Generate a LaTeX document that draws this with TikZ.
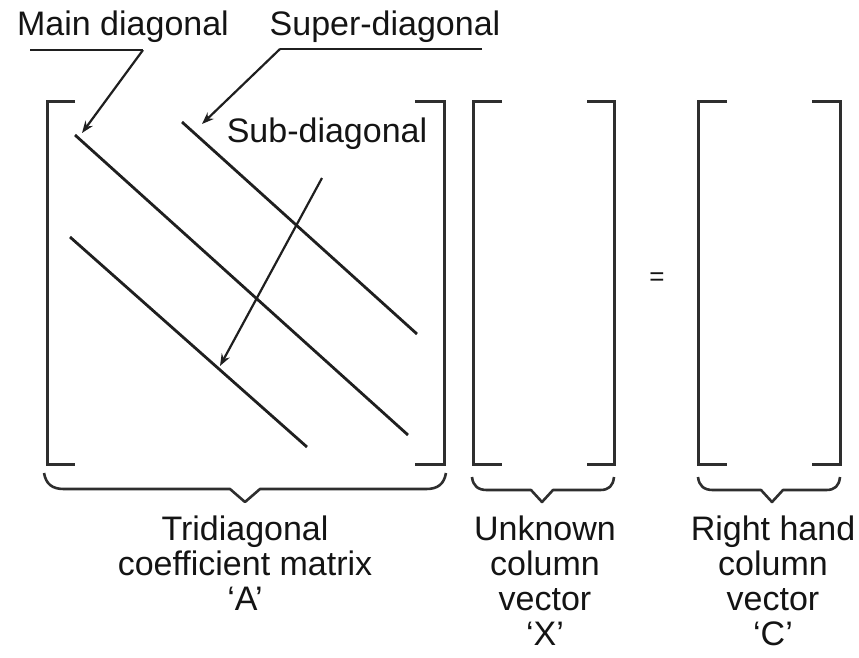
\documentclass[tikz,border=0pt]{standalone}
\usepackage{fontspec}
\setmainfont{Liberation Sans}
\usetikzlibrary{arrows.meta}
\begin{document}
\begin{tikzpicture}[x=1pt,y=-1pt,
  ink/.style={draw=black!88, line width=2.8pt},
  bkt/.style={draw=black!82, line width=3pt},
  lead/.style={draw=black!88, line width=2.2pt},
  arr/.style={draw=black!88, line width=2.2pt, -{Stealth[length=12pt,width=9pt]}},
  lbl/.style={font=\fontsize{34}{35}\selectfont, text=black!92, inner sep=0pt},
  brc/.style={draw=black!82, line width=2.6pt, line join=round}]
\useasboundingbox (0,0) rectangle (859,657);

% labels at top
\node[lbl, anchor=base] (mainlbl) at (123,35) {Main diagonal};
\node[lbl, anchor=base] (superlbl) at (385,35) {Super-diagonal};
\node[lbl, anchor=base] (sublbl) at (327,142) {Sub-diagonal};

% matrix A brackets
\draw[bkt] (75,101) -- (47,101) -- (47,464) -- (75,464);
\draw[bkt] (415,101) -- (444,101) -- (444,464) -- (415,464);
% vector X brackets
\draw[bkt] (502,101) -- (473,101) -- (473,464) -- (502,464);
\draw[bkt] (587,101) -- (614,101) -- (614,464) -- (587,464);
% vector C brackets
\draw[bkt] (727,101) -- (698,101) -- (698,464) -- (727,464);
\draw[bkt] (812,101) -- (840,101) -- (840,464) -- (812,464);

% diagonals
\coordinate (m1) at (75,135);  \coordinate (m2) at (408,435);
\coordinate (s1) at (182,122); \coordinate (s2) at (417,334);
\coordinate (b1) at (70,237);  \coordinate (b2) at (307,447);
\draw[ink] (m1) -- (m2);
\draw[ink] (s1) -- (s2);
\draw[ink] (b1) -- (b2);

% leaders
\coordinate (mu1) at (30,50);  \coordinate (mu2) at (143,50);  \coordinate (mtip) at (82,133);
\coordinate (su1) at (482,49); \coordinate (su2) at (280,49);  \coordinate (stip) at (202,124);
\coordinate (bu) at (322,178); \coordinate (btip) at (220,366);
\draw[lead] (mu1) -- (mu2);
\draw[arr] (mu2) -- (mtip);
\draw[lead] (su1) -- (su2);
\draw[arr] (su2) -- (stip);
\draw[arr] (bu) -- (btip);

% equals
\node[lbl, font=\fontsize{26}{28}\selectfont] (eq) at (657,279) {=};

% braces
\draw[brc] (44,473) .. controls (46,484) and (52,489) .. (64,489) -- (230,489) -- (245,502) -- (260,489) -- (426,489) .. controls (438,489) and (444,484) .. (446,473);
\draw[brc] (472,477) .. controls (473,486) and (478,490) .. (487,490) -- (531,490) -- (542,502) -- (553,490) -- (600,490) .. controls (609,490) and (613,486) .. (614,477);
\draw[brc] (698,477) .. controls (699,486) and (704,490) .. (713,490) -- (761,490) -- (772,502) -- (783,490) -- (826,490) .. controls (835,490) and (839,486) .. (840,477);

% bottom labels
\node[lbl, anchor=north, align=center] (alab) at (245,516) {Tridiagonal\\coefficient matrix\\`A'};
\node[lbl, anchor=north, align=center] (xlab) at (545,516) {Unknown\\column\\vector\\`X'};
\node[lbl, anchor=north, align=center] (clab) at (773,516) {Right hand\\column\\vector\\`C'};
\end{tikzpicture}
\end{document}
